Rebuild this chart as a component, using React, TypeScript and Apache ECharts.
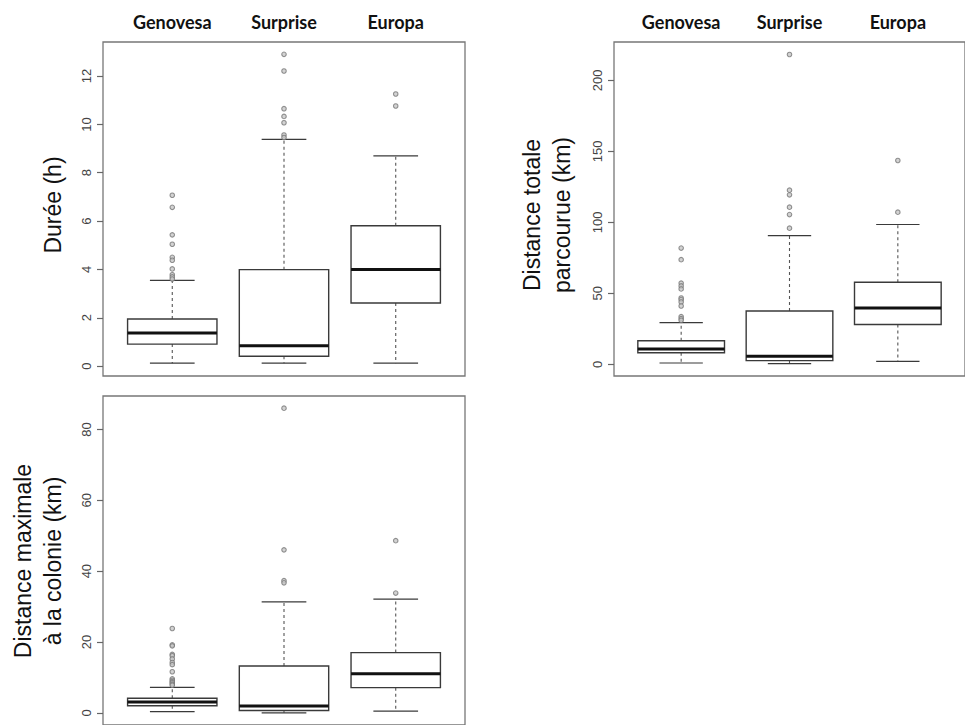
import React, { useEffect, useRef } from "react";
import * as echarts from "echarts";

// ---- data ----
const islands = ["Genovesa", "Surprise", "Europa"];

// [lower whisker, Q1, median, Q3, upper whisker]
const dureeStats = [
  [0.12, 0.91, 1.37, 1.95, 3.55],
  [0.12, 0.41, 0.84, 3.99, 9.38],
  [0.12, 2.61, 4.0, 5.81, 8.7],
];
const dureeOutliers = [
  [7.07, 6.57, 5.43, 5.04, 4.5, 4.38, 4.02, 3.78, 3.69, 3.6],
  [12.9, 12.21, 10.65, 10.33, 10.07, 9.56, 9.46],
  [11.26, 10.76],
];
const dureeTicks = [0, 2, 4, 6, 8, 10, 12];

const totaleStats = [
  [0.9, 8.1, 10.8, 16.6, 29.4],
  [0.5, 2.6, 5.6, 37.6, 90.7],
  [2.1, 28.0, 39.7, 57.8, 98.5],
];
const totaleOutliers = [
  [81.9, 73.7, 57.2, 55.2, 53.1, 46.7, 45.6, 43.9, 41.1, 33.6, 32.2, 31.0],
  [218.3, 122.7, 119.4, 110.7, 105.5, 95.9],
  [143.6, 107.2],
];
const totaleTicks = [0, 50, 100, 150, 200];

const maxStats = [
  [0.35, 2.0, 3.05, 4.1, 7.2],
  [0.0, 0.65, 1.95, 13.2, 31.3],
  [0.47, 7.1, 11.0, 17.0, 32.1],
];
const maxOutliers = [
  [23.8, 19.2, 18.9, 16.5, 16.1, 15.2, 14.2, 13.6, 11.6, 9.6, 9.2, 8.8, 8.5, 8.1, 7.8],
  [86.0, 46.0, 37.3, 36.7],
  [48.6, 33.8],
];
const maxTicks = [0, 20, 40, 60, 80];

// ---- panels ----
const panels = [
  { stats: dureeStats, outliers: dureeOutliers, ticks: dureeTicks, min: -0.41, max: 13.41,
    grid: { left: 103, top: 42, width: 362, height: 334 }, showCats: true },
  { stats: totaleStats, outliers: totaleOutliers, ticks: totaleTicks, min: -8.25, max: 227.1,
    grid: { left: 614, top: 42, width: 362, height: 334 }, showCats: true },
  { stats: maxStats, outliers: maxOutliers, ticks: maxTicks, min: -3.44, max: 89.44,
    grid: { left: 103, top: 396, width: 362, height: 333 }, showCats: false },
];

const tickFont = "Liberation Sans";

function renderBox(params: any, api: any) {
  const x = api.value(0);
  const lo = api.value(1);
  const q1 = api.value(2);
  const med = api.value(3);
  const q3 = api.value(4);
  const hi = api.value(5);
  const pLo = api.coord([x, lo]);
  const pQ1 = api.coord([x, q1]);
  const pMed = api.coord([x, med]);
  const pQ3 = api.coord([x, q3]);
  const pHi = api.coord([x, hi]);
  const half = api.size([0.8, 0])[0] / 2;
  const cap = half / 2;
  const cx = pMed[0];
  const lineCol = "#3a3a3a";
  return {
    type: "group",
    children: [
      { type: "line", shape: { x1: cx, y1: pQ3[1], x2: cx, y2: pHi[1] },
        style: { stroke: "#555", lineWidth: 1.1, lineDash: [3, 3] } },
      { type: "line", shape: { x1: cx, y1: pQ1[1], x2: cx, y2: pLo[1] },
        style: { stroke: "#555", lineWidth: 1.1, lineDash: [3, 3] } },
      { type: "line", shape: { x1: cx - cap, y1: pHi[1], x2: cx + cap, y2: pHi[1] },
        style: { stroke: lineCol, lineWidth: 1.2 } },
      { type: "line", shape: { x1: cx - cap, y1: pLo[1], x2: cx + cap, y2: pLo[1] },
        style: { stroke: lineCol, lineWidth: 1.2 } },
      { type: "rect", shape: { x: cx - half, y: pQ3[1], width: half * 2, height: pQ1[1] - pQ3[1] },
        style: { fill: "#fff", stroke: lineCol, lineWidth: 1.4 } },
      { type: "line", shape: { x1: cx - half, y1: pMed[1], x2: cx + half, y2: pMed[1] },
        style: { stroke: "#111", lineWidth: 3 } },
    ],
  };
}

export default function App() {
  const ref = useRef<HTMLDivElement>(null);
  useEffect(() => {
    if (!ref.current) return;
    const chart = echarts.init(ref.current, undefined, { renderer: "svg" });
    const grids: any[] = [];
    const xAxes: any[] = [];
    const yAxes: any[] = [];
    const series: any[] = [];
    panels.forEach((p, i) => {
      grids.push({ ...p.grid, show: true, borderColor: "#777", borderWidth: 1.3, backgroundColor: "transparent" });
      xAxes.push({
        type: "value", gridIndex: i, min: 0.38, max: 3.62, position: "top",
        axisLine: { show: false }, axisTick: { show: false }, splitLine: { show: false },
        axisLabel: {
          show: p.showCats, customValues: [1, 2, 3],
          formatter: (v: number) => islands[Math.round(v) - 1] || "",
          margin: 11, fontFamily: "Lato", fontWeight: "bold", fontSize: 18, color: "#111",
        },
      });
      yAxes.push({
        type: "value", gridIndex: i, min: p.min, max: p.max,
        axisLine: { show: false }, splitLine: { show: false },
        axisTick: { show: true, customValues: p.ticks, length: 6, lineStyle: { color: "#666", width: 1.2 } },
        axisLabel: { customValues: p.ticks, rotate: 90, margin: 10, fontSize: 13, color: "#444", fontFamily: tickFont },
      });
      series.push({
        type: "custom", xAxisIndex: i, yAxisIndex: i, renderItem: renderBox,
        encode: { x: 0, y: [1, 2, 3, 4, 5] },
        data: p.stats.map((s, k) => [k + 1, ...s]),
        z: 2,
      });
      const pts: number[][] = [];
      p.outliers.forEach((arr, k) => arr.forEach((v) => pts.push([k + 1, v])));
      series.push({
        type: "scatter", xAxisIndex: i, yAxisIndex: i, data: pts, symbol: "circle", symbolSize: 4.5,
        itemStyle: { color: "#c8c8c8", borderColor: "#777", borderWidth: 1.1 }, z: 3,
      });
    });
    chart.setOption({
      animation: false,
      backgroundColor: "#fff",
      grid: grids,
      xAxis: xAxes,
      yAxis: yAxes,
      series,
      graphic: [
        { type: "text", x: 53, y: 205, rotation: Math.PI / 2,
          style: { text: "Durée (h)", fontSize: 23, fontFamily: "Liberation Sans", fill: "#111", align: "center", verticalAlign: "middle" } },
        { type: "text", x: 547, y: 215, rotation: Math.PI / 2,
          style: { text: "Distance totale\nparcourue (km)", fontSize: 23, lineHeight: 30, fontFamily: "Liberation Sans", fill: "#111", align: "center", verticalAlign: "middle" } },
        { type: "text", x: 38, y: 561, rotation: Math.PI / 2,
          style: { text: "Distance maximale\nà la colonie (km)", fontSize: 23, lineHeight: 30, fontFamily: "Liberation Sans", fill: "#111", align: "center", verticalAlign: "middle" } },
      ],
    });
    return () => chart.dispose();
  }, []);
  return <div ref={ref} style={{ position: "absolute", left: 0, top: 0, width: 965, height: 725 }} />;
}
